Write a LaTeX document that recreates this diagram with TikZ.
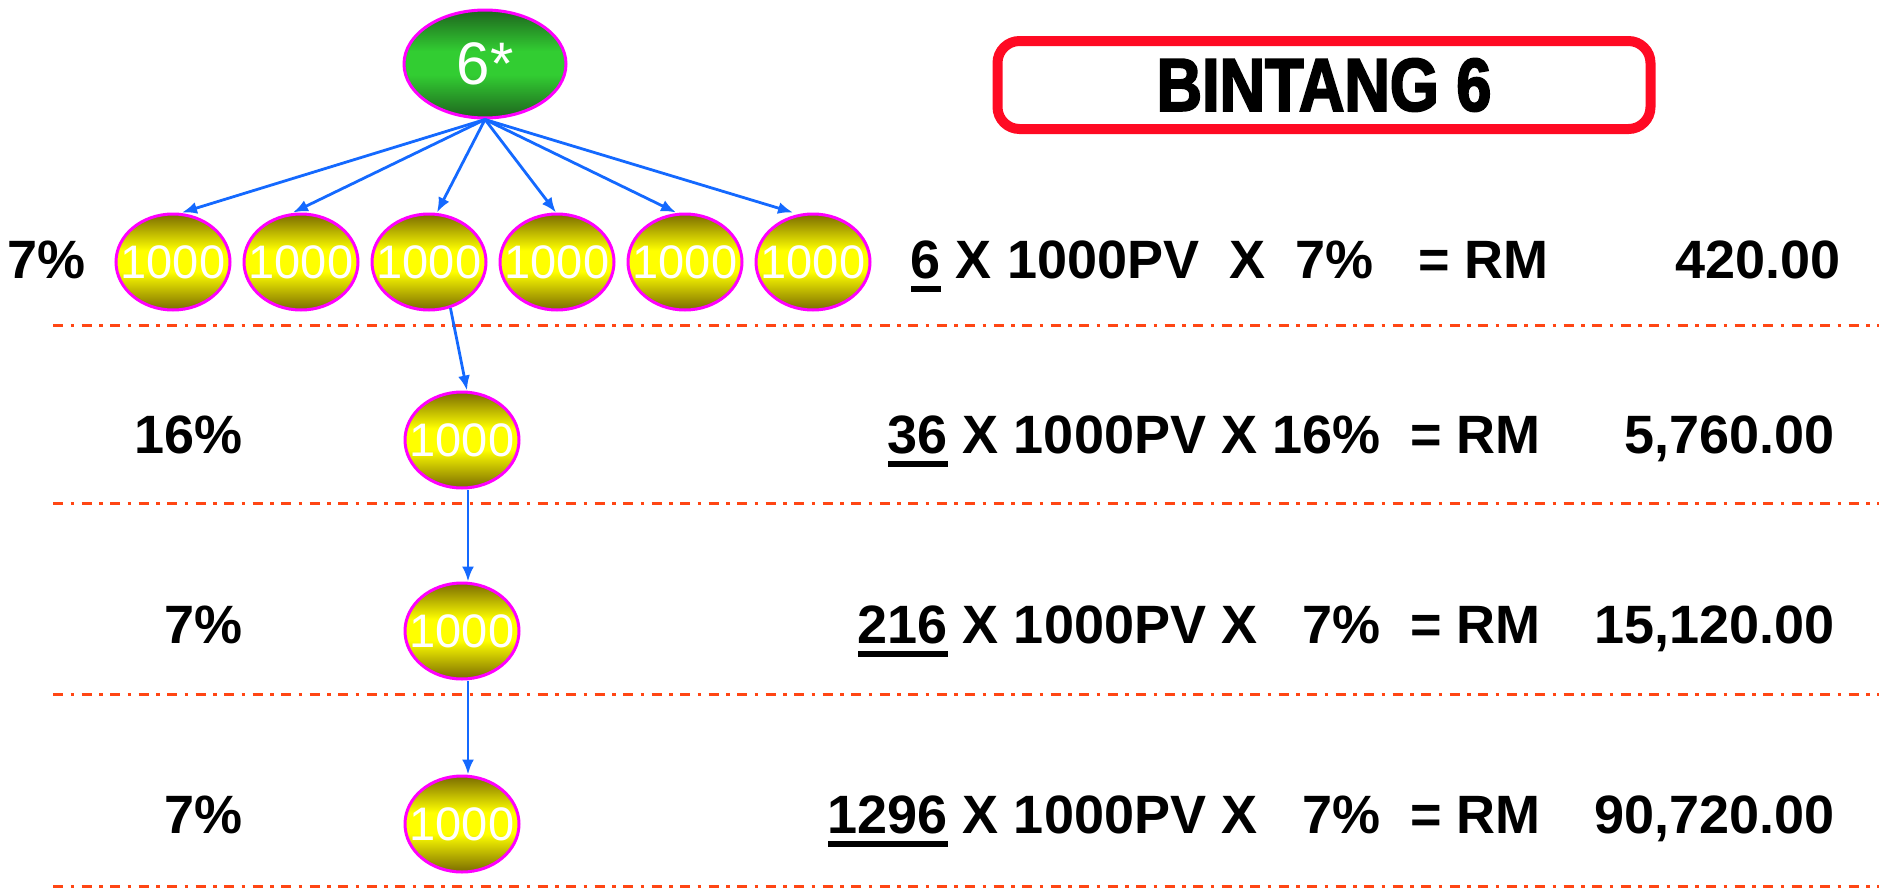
\documentclass[tikz,border=0pt]{standalone}
\usepackage{fontspec}
\setmainfont{Liberation Sans}
\newfontfamily\titlefont[FakeStretch=0.84,FakeBold=2.5]{Liberation Sans Bold}
\usetikzlibrary{arrows.meta,shapes.geometric}
\definecolor{mag}{RGB}{255,0,255}
\definecolor{olv}{RGB}{122,108,0}
\definecolor{ylw}{RGB}{255,255,0}
\definecolor{dgreen}{RGB}{30,100,30}
\definecolor{lgreen}{RGB}{50,205,50}
\definecolor{arrc}{RGB}{20,105,255}
\definecolor{sepc}{RGB}{255,70,20}
\definecolor{boxred}{RGB}{255,10,35}
\pgfdeclareverticalshading{yshade}{100bp}{color(0bp)=(olv); color(25bp)=(olv); color(45bp)=(ylw); color(56bp)=(ylw); color(75bp)=(olv); color(100bp)=(olv)}
\pgfdeclareverticalshading{gshade}{100bp}{color(0bp)=(dgreen); color(25bp)=(dgreen); color(45bp)=(lgreen); color(56bp)=(lgreen); color(75bp)=(dgreen); color(100bp)=(dgreen)}
\newcommand\ulnum[1]{\setbox0\hbox{#1}\rlap{\rule[-14pt]{\wd0}{6pt}}\box0\relax}
\tikzset{
  ynode/.style={ellipse, draw=mag, line width=3pt, minimum width=114pt, minimum height=96pt, inner sep=0pt,
    shading=yshade, text=white, font=\fontsize{47pt}{47pt}\selectfont},
  gnode/.style={ellipse, draw=mag, line width=3pt, minimum width=162pt, minimum height=108pt, inner sep=0pt,
    shading=gshade, text=white, font=\fontsize{60pt}{60pt}\selectfont},
  conn/.style={draw=arrc, line width=2.8pt, -{Latex[length=15pt,width=12pt]}},
  sepline/.style={draw=sepc, line width=3pt, dash pattern=on 10pt off 7.5pt on 3.5pt off 7.5pt},
  rowtext/.style={inner sep=0pt, font=\bfseries\fontsize{54pt}{54pt}\selectfont},
}
\begin{document}
\begin{tikzpicture}[x=1pt,y=-1pt]
\useasboundingbox (0,0) rectangle (1879,889);
% separator lines
\draw[sepline] (53,325) -- (1879,325);
\draw[sepline] (53,503) -- (1879,503);
\draw[sepline] (53,694) -- (1879,694);
\draw[sepline] (53,886) -- (1879,886);
% title
\node[draw=boxred, line width=10pt, rounded corners=22pt, minimum width=653pt, minimum height=88pt, inner sep=0pt,
  font=\titlefont\fontsize{75pt}{75pt}\selectfont] (title) at (1324,85) {BINTANG 6};
% top node
\node[gnode] (top) at (485,64) {\makebox[0pt]{6*}};
% first row
\node[ynode] (y1) at (173,262) {\makebox[0pt]{1000}};
\node[ynode] (y2) at (301,262) {\makebox[0pt]{1000}};
\node[ynode] (y3) at (429,262) {\makebox[0pt]{1000}};
\node[ynode] (y4) at (557,262) {\makebox[0pt]{1000}};
\node[ynode] (y5) at (685,262) {\makebox[0pt]{1000}};
\node[ynode] (y6) at (813,262) {\makebox[0pt]{1000}};
% column
\node[ynode] (c2) at (462,440) {\makebox[0pt]{1000}};
\node[ynode] (c3) at (462,631) {\makebox[0pt]{1000}};
\node[ynode] (c4) at (462,824) {\makebox[0pt]{1000}};
% connectors
\draw[conn] (top.south) -- ([xshift=9pt]y1.north);
\draw[conn] (top.south) -- ([xshift=-8pt]y2.north);
\draw[conn] (top.south) -- ([xshift=8pt]y3.north);
\draw[conn] (top.south) -- ([xshift=-1pt]y4.north);
\draw[conn] (top.south) -- ([xshift=-9pt]y5.north);
\draw[conn] (top.south) -- ([xshift=-20pt]y6.north);
\draw[conn] (y3.-65) -- ([xshift=5pt]c2.north);
\draw[conn] ([xshift=6pt]c2.south) -- ([xshift=6pt]c3.north);
\draw[conn] ([xshift=6pt]c3.south) -- ([xshift=6pt]c4.north);
% percentages
\node[rowtext, anchor=base west] (p1) at (7,278) {7\%};
\node[rowtext, anchor=base east] (p2) at (243,453) {16\%};
\node[rowtext, anchor=base east] (p3) at (243,643) {7\%};
\node[rowtext, anchor=base east] (p4) at (243,833) {7\%};
% equations
\node[rowtext, anchor=base east] (e1) at (1549,278) {\ulnum{6} X 1000PV~~X~~7\%~~~=~RM};
\node[rowtext, anchor=base east] (e2) at (1541,453) {\ulnum{36} X 1000PV X 16\%~~=~RM};
\node[rowtext, anchor=base east] (e3) at (1541,643) {\ulnum{216} X 1000PV X~~~7\%~~=~RM};
\node[rowtext, anchor=base east] (e4) at (1541,833) {\ulnum{1296} X 1000PV X~~~7\%~~=~RM};
% amounts
\node[rowtext, anchor=base east] (a1) at (1841,278) {420.00};
\node[rowtext, anchor=base east] (a2) at (1835,453) {5,760.00};
\node[rowtext, anchor=base east] (a3) at (1835,643) {15,120.00};
\node[rowtext, anchor=base east] (a4) at (1835,833) {90,720.00};
\end{tikzpicture}
\end{document}
